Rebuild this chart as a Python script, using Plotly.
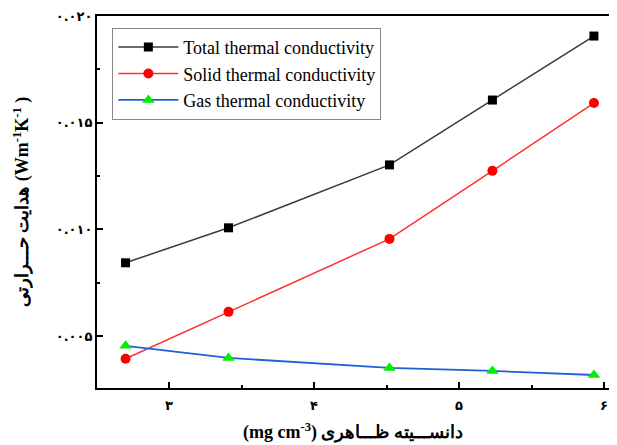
import plotly.graph_objects as go

density = [2.70, 3.41, 4.52, 5.23, 5.93]
total_k = [0.00843, 0.01007, 0.01302, 0.01606, 0.01906]
solid_k = [0.00393, 0.00613, 0.00955, 0.01274, 0.01592]
gas_k = [0.00454, 0.00397, 0.00350, 0.00336, 0.00317]

x_tickvals = [3, 4, 5, 6]
x_ticktext = ["<b>۳</b>", "<b>۴</b>", "<b>۵</b>", "<b>۶</b>"]
y_tickvals = [0.005, 0.010, 0.015, 0.020]
y_ticktext = ["<b>۰.۰۰۵</b>", "<b>۰.۰۱۰</b>", "<b>۰.۰۱۵</b>", "<b>۰.۰۲۰</b>"]

names = ["Total thermal conductivity", "Solid thermal conductivity", "Gas thermal conductivity"]

fig = go.Figure()
fig.add_trace(go.Scatter(x=density, y=total_k, name=names[0], mode="lines+markers",
                         line=dict(color="#3a3a3a", width=1.5),
                         marker=dict(symbol="square", size=9, color="black")))
fig.add_trace(go.Scatter(x=density, y=solid_k, name=names[1], mode="lines+markers",
                         line=dict(color="#ff3030", width=1.5),
                         marker=dict(symbol="circle", size=10, color="#ff0000")))
fig.add_trace(go.Scatter(x=density, y=gas_k, name=names[2], mode="lines+markers",
                         line=dict(color="#1f62d6", width=1.8),
                         marker=dict(symbol="triangle-up", size=11, color="#00ee00")))

serif = "'Liberation Serif', 'DejaVu Serif', serif"
arab = "'DejaVu Sans', sans-serif"
# page body has an 8px default margin, so the figure is sized to fit inside the window
fig.update_layout(
    width=609, height=437,
    margin=dict(l=89, r=8, t=8, b=57),
    paper_bgcolor="white", plot_bgcolor="white",
    font=dict(family=serif, color="black"),
    legend=dict(x=0.03, y=0.968, xanchor="left", yanchor="top",
                bordercolor="#888888", borderwidth=1, bgcolor="white",
                font=dict(family=serif, size=18, color="black"),
                tracegroupgap=0, itemwidth=60),
    showlegend=True,
)
fig.update_xaxes(
    range=[2.503, 6.034], tickvals=x_tickvals, ticktext=x_ticktext,
    ticks="inside", ticklen=6, tickwidth=1.5, tickcolor="black",
    minor=dict(dtick=0.5, tick0=2.5, ticks="inside", ticklen=3, tickcolor="black", tickwidth=1.5),
    showline=True, linecolor="black", linewidth=2, mirror=True,
    showgrid=False, zeroline=False, automargin=False, ticklabelstandoff=4,
    tickfont=dict(family=arab, size=13, color="black"),
    title=dict(text="<b>(mg cm<sup>-3</sup>)\u200e دانســـیته ظـــاهری</b>",
               font=dict(family=serif, size=18, color="black"), standoff=14),
)
fig.update_yaxes(
    range=[0.00256, 0.020], tickvals=y_tickvals, ticktext=y_ticktext,
    ticks="inside", ticklen=6, tickwidth=1.5, tickcolor="black",
    minor=dict(dtick=0.0025, tick0=0.0, ticks="inside", ticklen=3, tickcolor="black", tickwidth=1.5),
    showline=True, linecolor="black", linewidth=2, mirror=True,
    showgrid=False, zeroline=False, automargin=False,
    tickfont=dict(family=arab, size=13, color="black"),
    title=dict(text="<b>هدایت حـــرارتی (Wm<sup>-1</sup>K<sup>-1</sup> )</b>",
               font=dict(family=serif, size=18, color="black"), standoff=22),
)

fig.write_html("out.html")
